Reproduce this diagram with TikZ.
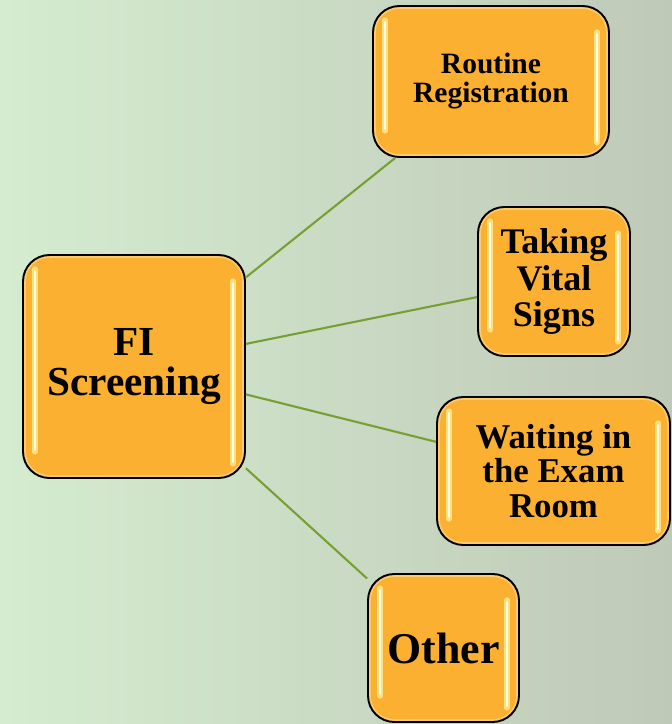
\documentclass[tikz,border=0pt]{standalone}
\usepackage{fontspec}
\setmainfont{Liberation Serif}
\usepackage{xcolor}
\usepackage{tikz}

\definecolor{bgleft}{HTML}{D5ECD0}
\definecolor{bgright}{HTML}{BFC9B8}
\definecolor{boxorange}{HTML}{FBB031}
\definecolor{boxlight}{HTML}{FDCB6E}
\definecolor{linkgreen}{HTML}{77A033}
\definecolor{glowyellow}{HTML}{FFE98A}
\definecolor{glowwhite}{HTML}{FFFCE6}

\tikzset{
	glossbox/.style={
			draw=black, line width=1.1pt, rounded corners=15pt, fill=boxlight,
			inner sep=0pt, align=center,
			path picture={
					\fill[boxorange, rounded corners=13pt] ([shift={(3,-3)}]path picture bounding box.north west) rectangle ([shift={(-3,3)}]path picture bounding box.south east);
					\draw[glowyellow, line width=3pt, line cap=round, opacity=0.85] ([shift={(12,-14)}]path picture bounding box.north west) -- ([shift={(12,26)}]path picture bounding box.south west);
					\draw[glowwhite, line width=1pt, line cap=round] ([shift={(12,-16)}]path picture bounding box.north west) -- ([shift={(12,28)}]path picture bounding box.south west);
					\draw[glowyellow, line width=3pt, line cap=round, opacity=0.85] ([shift={(-12,-26)}]path picture bounding box.north east) -- ([shift={(-12,14)}]path picture bounding box.south east);
					\draw[glowwhite, line width=1pt, line cap=round] ([shift={(-12,-28)}]path picture bounding box.north east) -- ([shift={(-12,16)}]path picture bounding box.south east);
				}
		},
	link/.style={draw=linkgreen, line width=1.2pt}
}

\begin{document}
\begin{tikzpicture}[x=0.02cm, y=0.02cm]
        % Background
        \useasboundingbox (0,0) rectangle (672,-724);
        \shade[left color=bgleft, right color=bgright] (0,0) rectangle (672,-724);

        % Root
        \node[glossbox, minimum width=4.44cm, minimum height=4.46cm, font=\fontsize{23.5}{22.7}\selectfont\bfseries] (fi) at (134,-366.5) {FI\\Screening};

        % Branches
        \node[glossbox, minimum width=4.72cm, minimum height=3.02cm, font=\fontsize{16.8}{16.5}\selectfont\bfseries] (routine) at (491,-81.5) {Routine\\Registration};
        \node[glossbox, minimum width=3.04cm, minimum height=2.98cm, font=\fontsize{20.5}{21}\selectfont\bfseries] (vital) at (554,-281.5) {Taking\\Vital\\Signs};
        \node[glossbox, minimum width=4.66cm, minimum height=2.96cm, font=\fontsize{19.8}{19.8}\selectfont\bfseries] (waiting) at (553.5,-471) {Waiting in\\the Exam\\Room};
        \node[glossbox, minimum width=3.02cm, minimum height=2.96cm, font=\fontsize{25}{26}\selectfont\bfseries] (other) at (443.5,-648) {Other};

        % Links
        \draw[link] (fi) -- (routine);
        \draw[link] (fi) -- (vital);
        \draw[link] (fi) -- (waiting);
        \draw[link] (fi) -- (other);
\end{tikzpicture}
\end{document}
